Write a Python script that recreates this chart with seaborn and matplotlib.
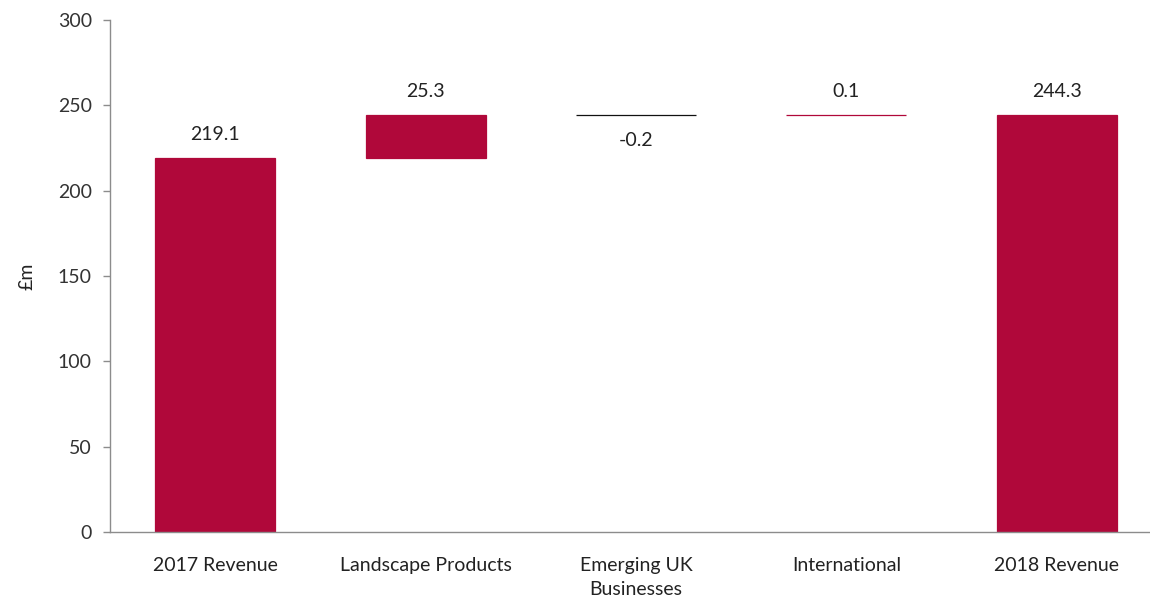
import matplotlib
matplotlib.use("Agg")
import matplotlib.pyplot as plt
import seaborn as sns
import pandas as pd

# Revenue bridge, £m
categories = ["2017 Revenue", "Landscape Products", "Emerging UK\nBusinesses",
              "International", "2018 Revenue"]
changes = [219.1, 25.3, -0.2, 0.1, 244.3]
is_total = [True, False, False, False, True]
labels = ["219.1", "25.3", "-0.2", "0.1", "244.3"]

# Compute floating bar extents
bottoms, tops = [], []
running = 0.0
for v, tot in zip(changes, is_total):
    if tot:
        bottoms.append(0.0)
        tops.append(v)
        running = v
    else:
        bottoms.append(running)
        running = running + v
        tops.append(running)

df = pd.DataFrame({"category": categories, "top": tops})

sns.set_theme(style="white")
plt.rcParams["font.family"] = ["Lato", "DejaVu Sans"]

RED = "#B0083A"
FS = 14
fig = plt.figure(figsize=(11.5, 6.03), dpi=100)
ax = fig.add_axes([110 / 1150, 71 / 603, 1052 / 1150, 512 / 603])

sns.barplot(data=df, x="category", y="top", color=RED, width=0.57,
            saturation=1, ax=ax)

edge_colors = [RED, RED, "#111111", RED, RED]
for patch, b, t, ec in zip(ax.patches, bottoms, tops, edge_colors):
    lo, hi = min(b, t), max(b, t)
    patch.set_y(lo)
    patch.set_height(hi - lo)
    patch.set_facecolor(ec)
    patch.set_edgecolor(ec)
    patch.set_linewidth(0.9)

for i, (b, t, lab) in enumerate(zip(bottoms, tops, labels)):
    if t >= b:
        ax.annotate(lab, (i, t), xytext=(0, 11), textcoords="offset points",
                    ha="center", va="bottom", fontsize=FS, color="#222222")
    else:
        ax.annotate(lab, (i, t), xytext=(0, -12), textcoords="offset points",
                    ha="center", va="top", fontsize=FS, color="#222222")

ax.set_xlim(-0.5, 4.5)
ax.set_ylim(0, 300)
ax.set_yticks(range(0, 301, 50))
ax.set_xlabel("")
ax.set_ylabel("£m", fontsize=FS, color="#222222", labelpad=16)

for side in ("top", "right"):
    ax.spines[side].set_visible(False)
for side in ("left", "bottom"):
    ax.spines[side].set_color("#8c8c8c")
    ax.spines[side].set_linewidth(1.0)

ax.tick_params(axis="y", left=True, length=5, width=1, color="#8c8c8c",
               labelsize=FS, labelcolor="#333333", pad=8)
ax.tick_params(axis="x", bottom=False, labelsize=FS, labelcolor="#222222", pad=12)
for lab in ax.get_xticklabels():
    lab.set_linespacing(1.5)

fig.savefig("out.png", dpi=100)
